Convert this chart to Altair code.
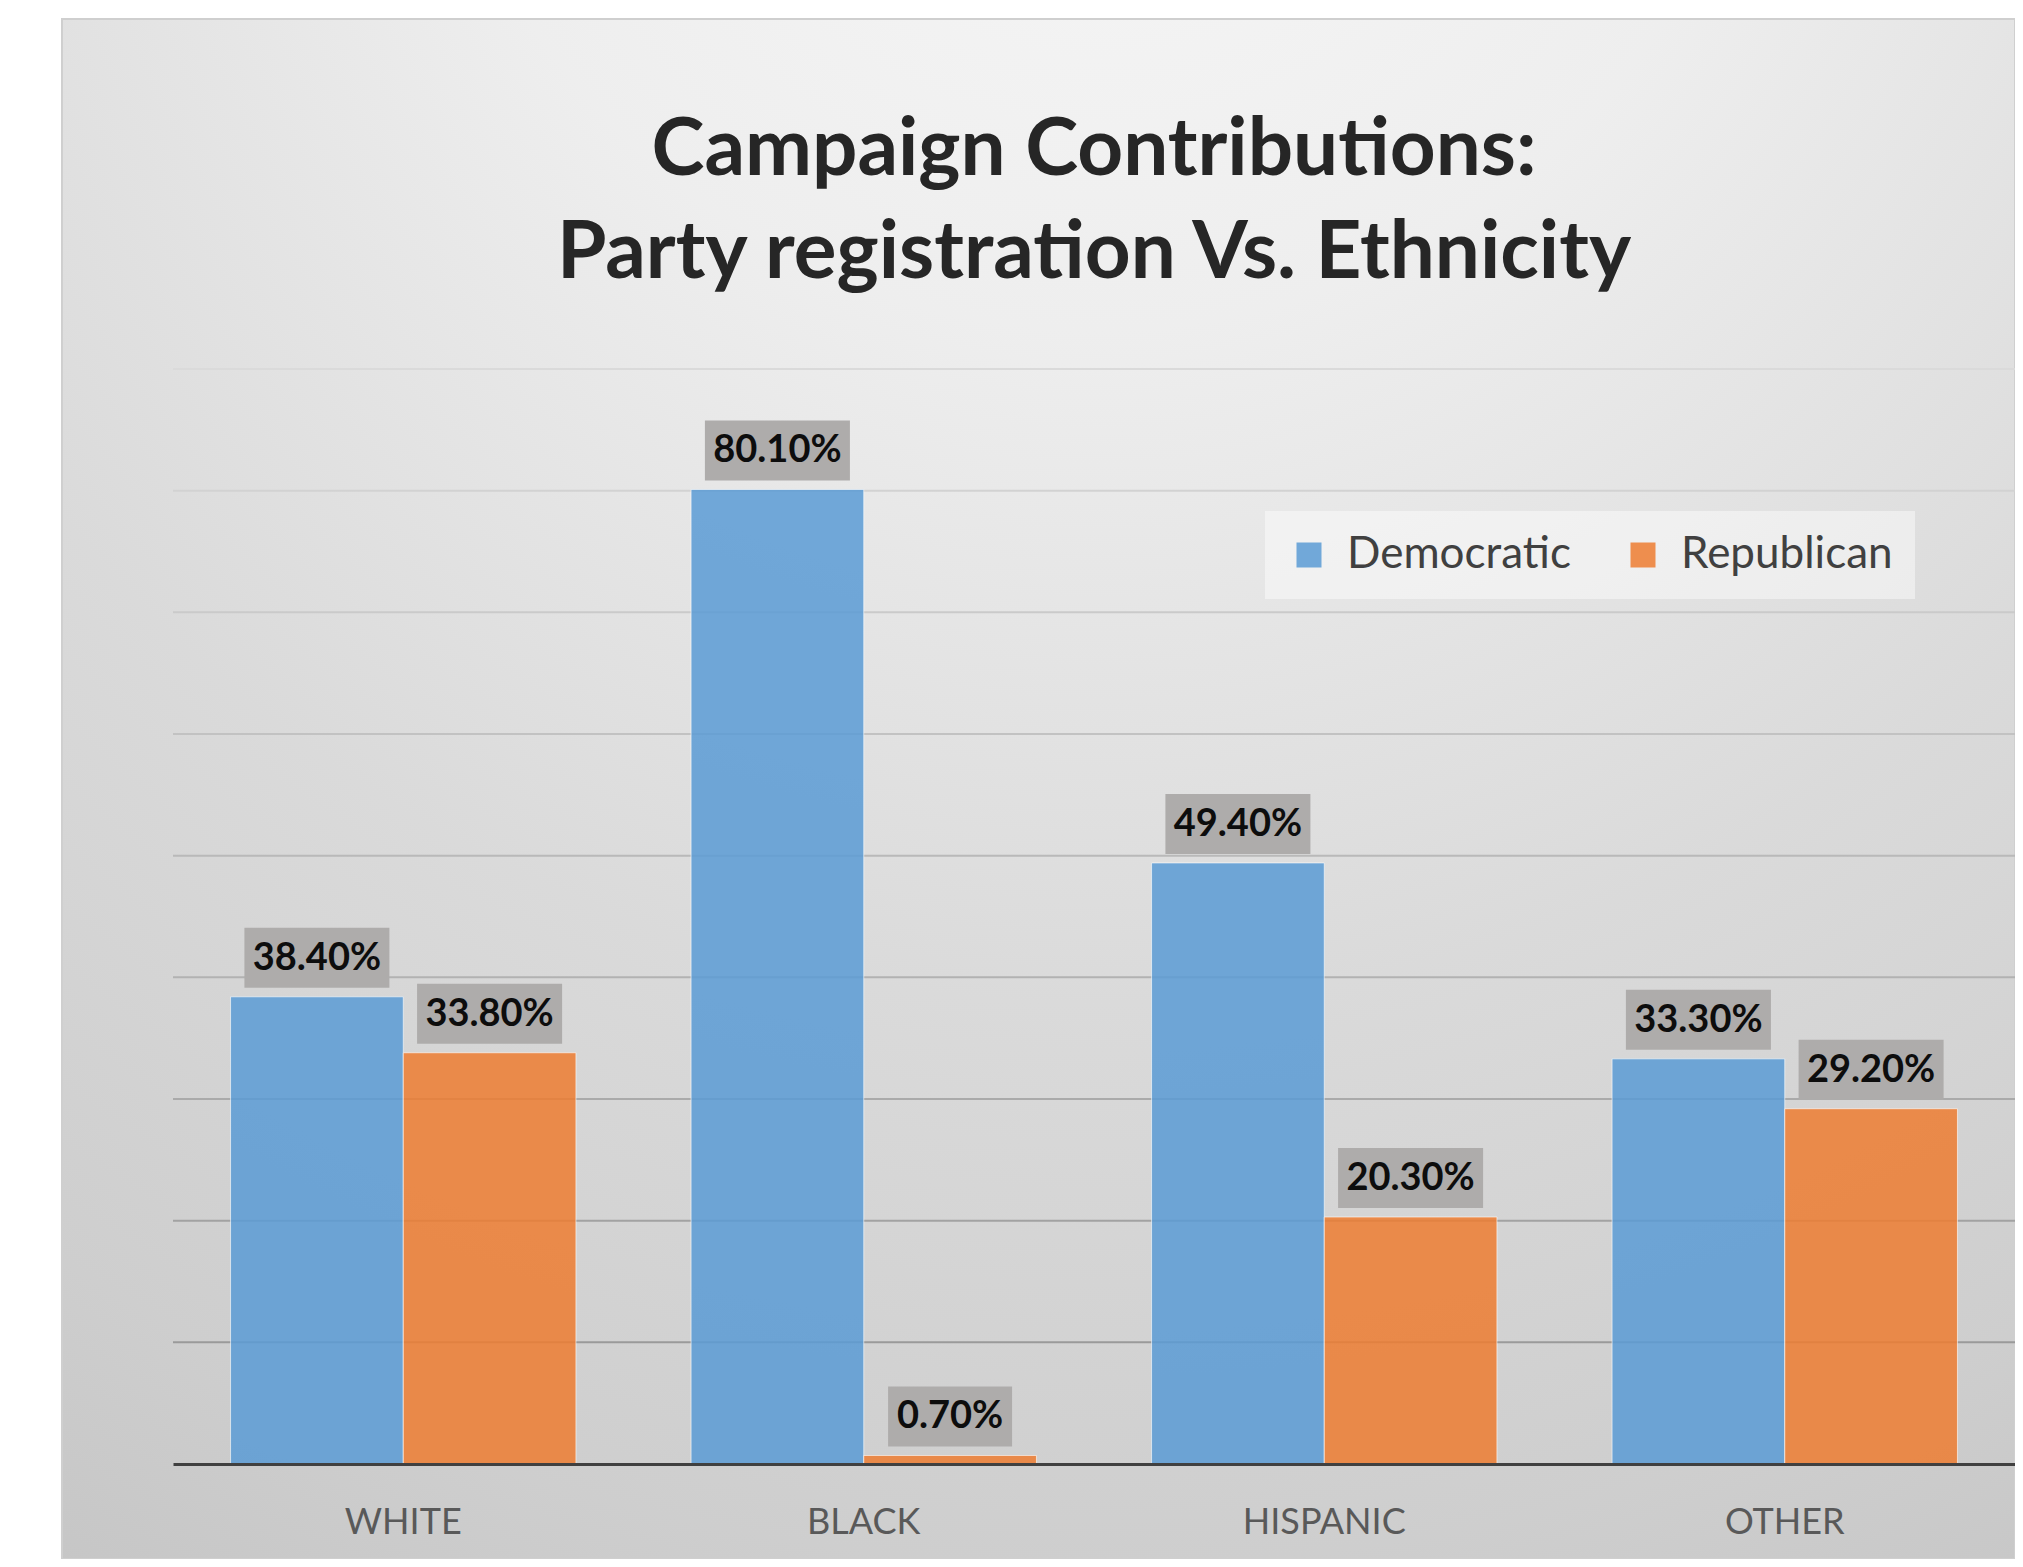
import altair as alt
import pandas as pd

# ---- data ----
ethnicity = ["WHITE", "BLACK", "HISPANIC", "OTHER"]
parties = ["Democratic", "Republican"]
democratic = [38.4, 80.1, 49.4, 33.3]
republican = [33.8, 0.7, 20.3, 29.2]
grid_values = [10, 20, 30, 40, 50, 60, 70, 80, 90]
title_lines = ["Campaign Contributions:", "Party registration Vs. Ethnicity"]

rows = []
for e, d, r in zip(ethnicity, democratic, republican):
    rows.append({"eth": e, "party": "Democratic", "value": d, "label": f"{d:.2f}%"})
    rows.append({"eth": e, "party": "Republican", "value": r, "label": f"{r:.2f}%"})
df = pd.DataFrame(rows)
grid_df = pd.DataFrame({"g": grid_values})
bg_df = pd.DataFrame({"k": [0]})

W, H = 1842, 1095
FONT = "Lato"

yscale = alt.Scale(domain=[0, 90], nice=False)
xscale = alt.Scale(paddingInner=0.25, paddingOuter=0.125)

gradient = {
    "gradient": "radial",
    "x1": 0.53, "y1": -0.08, "r1": 0,
    "x2": 0.53, "y2": -0.08, "r2": 1.15,
    "stops": [
        {"offset": 0.0, "color": "#f8f8f8"},
        {"offset": 0.3, "color": "#eeeeee"},
        {"offset": 0.6, "color": "#dadada"},
        {"offset": 0.85, "color": "#cecece"},
        {"offset": 1.0, "color": "#c4c4c4"},
    ],
}

background = alt.Chart(bg_df).mark_rect(
    fill=gradient, stroke="#cfcfcf", strokeWidth=2
).encode(
    x=alt.value(-111), x2=alt.value(W), y=alt.value(-350), y2=alt.value(H + 95)
)

grid = alt.Chart(grid_df).mark_rule(strokeWidth=2).encode(
    y=alt.Y("g:Q", scale=yscale, axis=None),
    stroke=alt.Stroke("g:Q", scale=alt.Scale(domain=[10, 90], range=["#9a9a9a", "#dadada"]), legend=None),
)

base = alt.Chart(df)

xenc = alt.X(
    "eth:N", sort=ethnicity, scale=xscale,
    axis=alt.Axis(
        title=None, labelFont=FONT, labelFontSize=36, labelColor="#595959",
        labelPadding=69, labelBaseline="alphabetic", labelAngle=0,
        ticks=False, tickSize=0, grid=False,
        domainColor="#404040", domainWidth=3, zindex=1,
    ),
)
xoff = alt.XOffset("party:N", sort=parties)

bars = base.mark_bar(fillOpacity=0.85, stroke="#ffffff", strokeWidth=1, strokeOpacity=0.6).encode(
    x=xenc,
    xOffset=xoff,
    y=alt.Y("value:Q", scale=yscale, axis=None),
    color=alt.Color(
        "party:N", sort=parties,
        scale=alt.Scale(domain=parties, range=["#5B9BD5", "#ED7D31"]),
        legend=alt.Legend(
            title=None, orient="none", legendX=1092, legendY=142, direction="horizontal",
            symbolType="square", symbolSize=625, symbolStrokeWidth=0, symbolOpacity=0.85,
            labelFont=FONT, labelFontSize=44, labelColor="#404040", labelOffset=16,
            labelLimit=500, columnPadding=50, padding=22,
            fillColor="rgba(255,255,255,0.45)", zindex=1,
        ),
    ),
)

box_long = base.transform_filter("length(datum.label) >= 6").mark_point(
    shape="M-1,-0.4138H1V0.4138H-1Z", size=145 * 145, filled=True,
    fill="#AEACAB", opacity=1, strokeWidth=0, yOffset=-39,
).encode(x=xenc, xOffset=xoff, y=alt.Y("value:Q", scale=yscale, axis=None))

box_short = base.transform_filter("length(datum.label) < 6").mark_point(
    shape="M-0.855,-0.4138H0.855V0.4138H-0.855Z", size=145 * 145, filled=True,
    fill="#AEACAB", opacity=1, strokeWidth=0, yOffset=-39,
).encode(x=xenc, xOffset=xoff, y=alt.Y("value:Q", scale=yscale, axis=None))

labels = base.mark_text(
    font=FONT, fontSize=38, fontWeight="bold", color="#0d0d0d",
    baseline="middle", align="center", yOffset=-38,
).encode(x=xenc, xOffset=xoff, y=alt.Y("value:Q", scale=yscale, axis=None), text="label:N")

chart = alt.layer(background, grid, bars, box_long, box_short, labels).properties(
    width=W, height=H,
    padding={"left": 165, "top": 361, "right": 0, "bottom": 95},
    autosize=alt.AutoSizeParams(type="none"),
    title=alt.TitleParams(
        text=title_lines, font=FONT, fontSize=80, fontWeight="bold", color="#262626",
        lineHeight=103, anchor="middle", baseline="alphabetic", offset=0, dy=340, zindex=1,
    ),
).configure_view(stroke=None).configure(background="white")

chart.save("out.html", embed_options={"renderer": "svg", "actions": False})
